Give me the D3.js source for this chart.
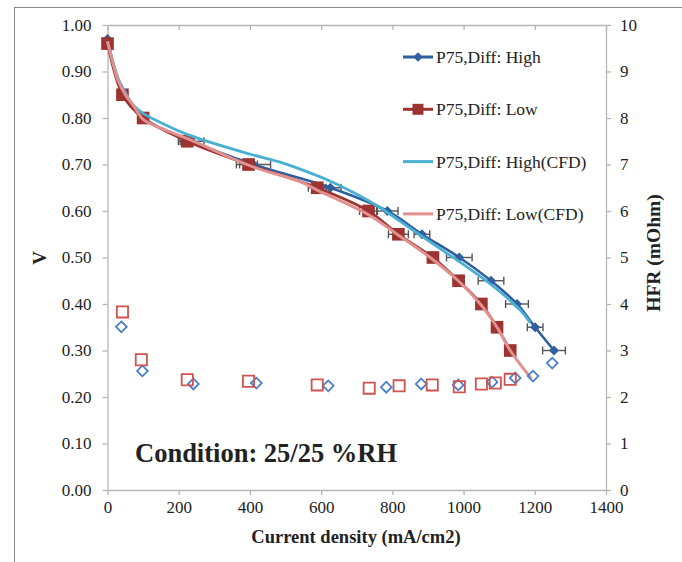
<!DOCTYPE html>
<html>
<head>
<meta charset="utf-8">
<script src="https://cdn.jsdelivr.net/npm/d3@7"></script>
<style>
  html, body { margin: 0; padding: 0; background: #ffffff; }
  svg { display: block; }
  text { font-family: "Liberation Serif", "Times New Roman", serif; fill: #222; }
</style>
</head>
<body>
<svg id="chart" width="682" height="562"></svg>
<script>
// Polarisation curves (V vs current density) and HFR, P75 diffusion media
const currentHigh = [0, 45, 100, 235, 410, 626, 786, 883, 988, 1077, 1150, 1201, 1254];
const voltHigh    = [0.97, 0.85, 0.80, 0.75, 0.70, 0.65, 0.60, 0.55, 0.50, 0.45, 0.40, 0.35, 0.30];
const errHigh     = [0, 0, 0, 36, 48, 30, 30, 22, 36, 36, 32, 22, 32];

const currentLow  = [0, 42, 100, 224, 396, 589, 733, 817, 914, 986, 1050, 1094, 1131];
const voltLow     = [0.96, 0.85, 0.80, 0.75, 0.70, 0.65, 0.60, 0.55, 0.50, 0.45, 0.40, 0.35, 0.30];
const errLow      = [0, 0, 0, 20, 25, 25, 25, 28, 15, 15, 0, 0, 0];

const cfdCurrentHigh = [0, 15, 30, 50, 70, 100, 150, 233, 401, 480, 541, 626, 700, 766, 878, 990, 1075, 1159, 1187];
const cfdVoltHigh    = [0.965, 0.92, 0.885, 0.855, 0.83, 0.81, 0.79, 0.762, 0.722, 0.706, 0.690, 0.664, 0.636, 0.607, 0.548, 0.49, 0.443, 0.387, 0.36];

const cfdCurrentLow  = [0, 15, 30, 50, 70, 100, 150, 233, 401, 541, 589, 733, 817, 906, 985, 1047, 1094, 1131, 1190];
const cfdVoltLow     = [0.965, 0.92, 0.88, 0.85, 0.83, 0.797, 0.778, 0.753, 0.697, 0.663, 0.645, 0.592, 0.548, 0.50, 0.45, 0.40, 0.35, 0.30, 0.24];

const hfrCurrentHigh = [39, 98, 241, 418, 620, 783, 881, 985, 1080, 1145, 1195, 1249];
const hfrHigh        = [3.51, 2.56, 2.28, 2.30, 2.24, 2.21, 2.28, 2.26, 2.32, 2.41, 2.45, 2.73];
const hfrCurrentLow  = [42, 95, 224, 396, 589, 735, 819, 912, 988, 1050, 1089, 1131];
const hfrLow         = [3.83, 2.80, 2.37, 2.34, 2.26, 2.19, 2.24, 2.26, 2.22, 2.28, 2.30, 2.38];

const xTicks  = [0, 200, 400, 600, 800, 1000, 1200, 1400];
const yTicks  = [0, 0.1, 0.2, 0.3, 0.4, 0.5, 0.6, 0.7, 0.8, 0.9, 1.0];
const y2Ticks = [0, 1, 2, 3, 4, 5, 6, 7, 8, 9, 10];

const seriesNames = ["P75,Diff: High", "P75,Diff: Low", "P75,Diff: High(CFD)", "P75,Diff: Low(CFD)"];
const conditionLabel = "Condition: 25/25 %RH";

const svg = d3.select("#chart");

const plot = { left: 107.5, right: 606, top: 25, bottom: 490 };
const x  = d3.scaleLinear().domain([0, 1400]).range([plot.left, plot.right]);
const y  = d3.scaleLinear().domain([0, 1]).range([plot.bottom, plot.top]);
const y2 = d3.scaleLinear().domain([0, 10]).range([plot.bottom, plot.top]);

const colors = {
  high: "#2f5f9f", low: "#9c3330", cfdHigh: "#4ab0d2", cfdLow: "#e0908f",
  hfrHigh: "#4b80c9", hfrLow: "#d0534f", axis: "#b5b5b5", err: "#555555"
};

// chart frame
svg.append("rect").attr("x", 14.5).attr("y", 7.5).attr("width", 720).attr("height", 600)
  .attr("fill", "none").attr("stroke", "#8a8a8a").attr("stroke-width", 1);

function styleAxis(g) {
  g.selectAll("path.domain").attr("stroke", colors.axis).attr("stroke-width", 1.3);
  g.selectAll(".tick line").attr("stroke", colors.axis).attr("stroke-width", 1.3);
  g.selectAll(".tick text").attr("font-family", "Liberation Serif, serif").attr("font-size", 17).attr("fill", "#222");
}

// axes
svg.append("g").attr("transform", `translate(0,${plot.bottom})`)
  .call(d3.axisBottom(x).tickValues(xTicks).tickFormat(d3.format("d")).tickSize(5).tickSizeOuter(0).tickPadding(6))
  .call(styleAxis);
svg.append("g").attr("transform", `translate(0,${plot.top})`)
  .call(d3.axisBottom(x).tickValues(xTicks).tickFormat("").tickSize(5).tickSizeOuter(0))
  .call(styleAxis);
svg.append("g").attr("transform", `translate(${plot.left},0)`)
  .call(d3.axisLeft(y).tickValues(yTicks).tickFormat(d3.format(".2f")).tickSize(5).tickSizeOuter(0).tickPadding(11))
  .call(styleAxis);
svg.append("g").attr("transform", `translate(${plot.right},0)`)
  .call(d3.axisRight(y2).tickValues(y2Ticks).tickFormat(d3.format("d")).tickSize(5).tickSizeOuter(0).tickPadding(9))
  .call(styleAxis);

// axis titles
svg.append("text").attr("x", 356).attr("y", 543).attr("text-anchor", "middle")
  .attr("font-size", 18.5).attr("font-weight", "bold").text("Current density (mA/cm2)");
svg.append("text").attr("transform", "translate(46,258) rotate(-90)").attr("text-anchor", "middle")
  .attr("font-size", 19).attr("font-weight", "bold").text("V");
svg.append("text").attr("transform", "translate(660,253) rotate(-90)").attr("text-anchor", "middle")
  .attr("font-size", 19.5).attr("font-weight", "bold").text("HFR (mOhm)");

const zip = (xs, ys) => xs.map((d, i) => [d, ys[i]]);
const line = d3.line().x(d => x(d[0])).y(d => y(d[1])).curve(d3.curveCatmullRom.alpha(0.5));

// horizontal error bars
function errorBars(xs, ys, es) {
  const g = svg.append("g").attr("stroke", colors.err).attr("stroke-width", 1.4).attr("fill", "none");
  xs.forEach((cx, i) => {
    if (!es[i]) return;
    const x0 = x(cx - es[i]), x1 = x(cx + es[i]), yy = y(ys[i]);
    g.append("line").attr("x1", x0).attr("x2", x1).attr("y1", yy).attr("y2", yy);
    g.append("line").attr("x1", x0).attr("x2", x0).attr("y1", yy - 4).attr("y2", yy + 4);
    g.append("line").attr("x1", x1).attr("x2", x1).attr("y1", yy - 4).attr("y2", yy + 4);
  });
}
errorBars(currentHigh, voltHigh, errHigh);
errorBars(currentLow, voltLow, errLow);

// measured polarisation curves
svg.append("path").datum(zip(currentHigh, voltHigh)).attr("d", line)
  .attr("fill", "none").attr("stroke", colors.high).attr("stroke-width", 2.6);
svg.append("g").selectAll("path").data(zip(currentHigh, voltHigh)).join("path")
  .attr("d", d3.symbol().type(d3.symbolSquare).size(50))
  .attr("transform", d => `translate(${x(d[0])},${y(d[1])}) rotate(45)`)
  .attr("fill", colors.high);

svg.append("path").datum(zip(currentLow, voltLow)).attr("d", line)
  .attr("fill", "none").attr("stroke", colors.low).attr("stroke-width", 2.6);
svg.append("g").selectAll("path").data(zip(currentLow, voltLow)).join("path")
  .attr("d", d3.symbol().type(d3.symbolSquare).size(160))
  .attr("transform", d => `translate(${x(d[0])},${y(d[1])})`)
  .attr("fill", colors.low);

// CFD curves
svg.append("path").datum(zip(cfdCurrentHigh, cfdVoltHigh)).attr("d", line)
  .attr("fill", "none").attr("stroke", colors.cfdHigh).attr("stroke-width", 2.8);
svg.append("path").datum(zip(cfdCurrentLow, cfdVoltLow)).attr("d", line)
  .attr("fill", "none").attr("stroke", colors.cfdLow).attr("stroke-width", 3);

// HFR, secondary axis
svg.append("g").selectAll("path").data(zip(hfrCurrentHigh, hfrHigh)).join("path")
  .attr("d", d3.symbol().type(d3.symbolSquare).size(58))
  .attr("transform", d => `translate(${x(d[0])},${y2(d[1])}) rotate(45)`)
  .attr("fill", "none").attr("stroke", colors.hfrHigh).attr("stroke-width", 1.8);
svg.append("g").selectAll("path").data(zip(hfrCurrentLow, hfrLow)).join("path")
  .attr("d", d3.symbol().type(d3.symbolSquare).size(125))
  .attr("transform", d => `translate(${x(d[0])},${y2(d[1])})`)
  .attr("fill", "none").attr("stroke", colors.hfrLow).attr("stroke-width", 1.8);

// legend
const legendRows = [
  { name: seriesNames[0], color: colors.high, marker: "diamond" },
  { name: seriesNames[1], color: colors.low, marker: "square" },
  { name: seriesNames[2], color: colors.cfdHigh, marker: null },
  { name: seriesNames[3], color: colors.cfdLow, marker: null }
];
const legend = svg.append("g").attr("transform", "translate(403,57)");
legendRows.forEach((r, i) => {
  const g = legend.append("g").attr("transform", `translate(0,${i * 52.3})`);
  g.append("line").attr("x1", 0).attr("x2", 30).attr("y1", 0).attr("y2", 0)
    .attr("stroke", r.color).attr("stroke-width", 3);
  if (r.marker === "diamond") {
    g.append("path").attr("d", d3.symbol().type(d3.symbolSquare).size(45))
      .attr("transform", "translate(15,0) rotate(45)").attr("fill", r.color);
  } else if (r.marker === "square") {
    g.append("path").attr("d", d3.symbol().type(d3.symbolSquare).size(120))
      .attr("transform", "translate(15,0)").attr("fill", r.color);
  }
  g.append("text").attr("x", 33).attr("y", 6).attr("font-size", 17.5).text(r.name);
});

// test condition note
svg.append("text").attr("x", 135).attr("y", 462).attr("font-size", 26.5).attr("font-weight", "bold")
  .attr("fill", "#111").text(conditionLabel);
</script>
</body>
</html>
